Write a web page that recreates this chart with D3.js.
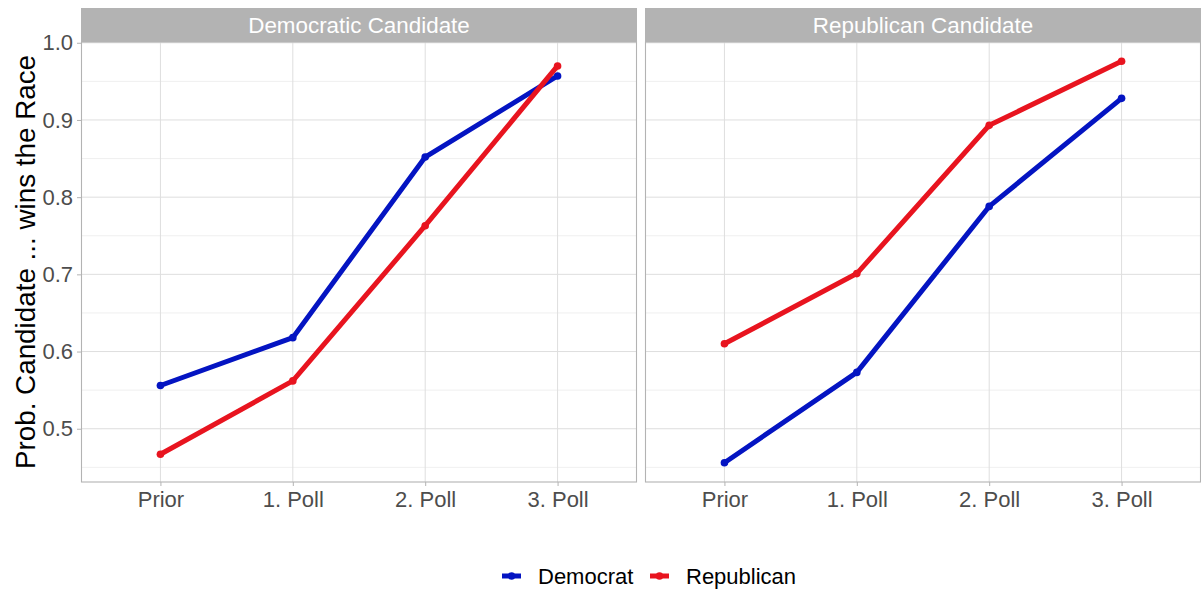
<!DOCTYPE html>
<html>
<head>
<meta charset="utf-8">
<script src="https://cdn.jsdelivr.net/npm/d3@7"></script>
<style>
  html, body { margin: 0; padding: 0; background: #fff; }
  svg { display: block; font-family: "Liberation Sans", Arial, Helvetica, sans-serif; }
</style>
</head>
<body>
<svg id="chart" width="1201" height="590"></svg>
<script>
document.addEventListener("DOMContentLoaded", () => {
  "use strict";

  const STAGES = ["Prior", "1. Poll", "2. Poll", "3. Poll"];
  const PANELS = ["Democratic Candidate", "Republican Candidate"];
  const SERIES = ["Democrat", "Republican"];

  // values per panel
  const demPanelDemocrat   = [0.556, 0.618, 0.852, 0.957];
  const demPanelRepublican = [0.467, 0.562, 0.763, 0.970];
  const repPanelDemocrat   = [0.456, 0.573, 0.788, 0.928];
  const repPanelRepublican = [0.610, 0.701, 0.893, 0.976];

  const Y_TICKS = [0.5, 0.6, 0.7, 0.8, 0.9, 1.0];
  const Y_MINOR = [0.45, 0.55, 0.65, 0.75, 0.85, 0.95];

  const panelData = [
    { panel: PANELS[0], lines: [
      { name: "Democrat", values: demPanelDemocrat },
      { name: "Republican", values: demPanelRepublican } ] },
    { panel: PANELS[1], lines: [
      { name: "Democrat", values: repPanelDemocrat },
      { name: "Republican", values: repPanelRepublican } ] }
  ];

  const color = d3.scaleOrdinal().domain(SERIES).range(["#0414c2", "#e8141f"]);

  const svg = d3.select("#chart");
  const TOP = 42, BOTTOM = 482, STRIP = 34;
  const panelX = [[81, 637], [645, 1201]];
  const SMALL = "22px";

  const y = d3.scaleLinear().domain([0.431, 1.001]).range([BOTTOM, TOP]);

  panelData.forEach((p, i) => {
    const [x0, x1] = panelX[i];
    const x = d3.scalePoint().domain(STAGES).range([x0, x1]).padding(0.6);
    const g = svg.append("g");

    // grid
    g.selectAll("line.minor").data(Y_MINOR).join("line")
      .attr("x1", x0).attr("x2", x1)
      .attr("y1", d => y(d)).attr("y2", d => y(d))
      .attr("stroke", "#ebebeb").attr("stroke-width", 0.8);
    g.selectAll("line.major").data(Y_TICKS).join("line")
      .attr("x1", x0).attr("x2", x1)
      .attr("y1", d => y(d)).attr("y2", d => y(d))
      .attr("stroke", "#dedede").attr("stroke-width", 1);
    g.selectAll("line.vgrid").data(STAGES).join("line")
      .attr("x1", d => x(d)).attr("x2", d => x(d))
      .attr("y1", TOP).attr("y2", BOTTOM)
      .attr("stroke", "#dedede").attr("stroke-width", 1);

    // border
    g.append("rect")
      .attr("x", x0 + 0.5).attr("y", TOP)
      .attr("width", x1 - x0 - 1).attr("height", BOTTOM - TOP)
      .attr("fill", "none").attr("stroke", "#b3b3b3").attr("stroke-width", 1.1);

    // strip
    g.append("rect")
      .attr("x", x0).attr("y", TOP - STRIP)
      .attr("width", x1 - x0).attr("height", STRIP)
      .attr("fill", "#b3b3b3");
    g.append("text")
      .attr("x", (x0 + x1) / 2).attr("y", TOP - STRIP / 2)
      .attr("dy", "0.36em")
      .attr("text-anchor", "middle")
      .attr("fill", "#fff")
      .style("font-size", "22.4px")
      .text(p.panel);

    // x axis
    const xa = g.append("g").attr("transform", `translate(0,${BOTTOM})`)
      .call(d3.axisBottom(x).tickSize(4).tickPadding(5).tickSizeOuter(0));
    xa.select(".domain").remove();
    xa.selectAll("line").attr("stroke", "#b3b3b3");
    xa.selectAll("text").attr("fill", "#4d4d4d").style("font-size", SMALL);

    // y axis on first panel only
    if (i === 0) {
      const ya = g.append("g").attr("transform", `translate(${x0},0)`)
        .call(d3.axisLeft(y).tickValues(Y_TICKS).tickFormat(d3.format(".1f"))
          .tickSize(4).tickPadding(4).tickSizeOuter(0));
      ya.select(".domain").remove();
      ya.selectAll("line").attr("stroke", "#b3b3b3");
      ya.selectAll("text").attr("fill", "#4d4d4d").style("font-size", SMALL);
    }

    const line = d3.line().x((d, k) => x(STAGES[k])).y(d => y(d));

    p.lines.forEach(s => {
      g.append("path")
        .datum(s.values)
        .attr("d", line)
        .attr("fill", "none")
        .attr("stroke", color(s.name))
        .attr("stroke-width", 5);
      g.selectAll(null).data(s.values).join("circle")
        .attr("cx", (d, k) => x(STAGES[k]))
        .attr("cy", d => y(d))
        .attr("r", 3.8)
        .attr("fill", color(s.name));
    });
  });

  // y title
  svg.append("text")
    .attr("transform", `translate(35,${(TOP + BOTTOM) / 2}) rotate(-90)`)
    .attr("text-anchor", "middle")
    .attr("fill", "#000")
    .style("font-size", "27.8px")
    .text("Prob. Candidate ... wins the Race");

  // legend
  const legendPos = [502, 650];
  const legend = svg.append("g").attr("transform", "translate(0,576)");
  SERIES.forEach((s, i) => {
    const lx = legendPos[i];
    legend.append("line")
      .attr("x1", lx).attr("x2", lx + 19)
      .attr("y1", 0).attr("y2", 0)
      .attr("stroke", color(s)).attr("stroke-width", 5);
    legend.append("circle")
      .attr("cx", lx + 9.5).attr("cy", 0).attr("r", 3.8)
      .attr("fill", color(s));
    legend.append("text")
      .attr("x", lx + 36).attr("y", 0).attr("dy", "0.36em")
      .attr("fill", "#000")
      .style("font-size", SMALL)
      .text(s);
  });
});
</script>
</body>
</html>
